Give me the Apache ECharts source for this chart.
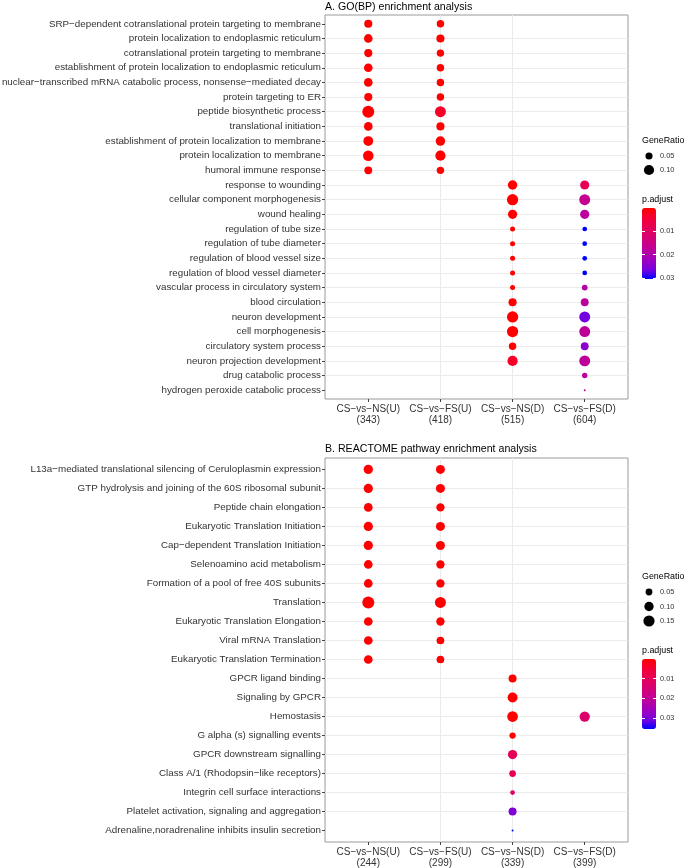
<!DOCTYPE html>
<html><head><meta charset="utf-8">
<script src="https://cdn.jsdelivr.net/npm/echarts@6/dist/echarts.min.js"></script>
<style>html,body{margin:0;padding:0;background:#fff}#c{width:685px;height:868px}</style>
</head><body><div id="c"></div>
<script>
// ---------- Panel A: GO(BP) ----------
const goTitle = 'A. GO(BP) enrichment analysis';
const goTerms = [
  'SRP−dependent cotranslational protein targeting to membrane',
  'protein localization to endoplasmic reticulum',
  'cotranslational protein targeting to membrane',
  'establishment of protein localization to endoplasmic reticulum',
  'nuclear−transcribed mRNA catabolic process, nonsense−mediated decay',
  'protein targeting to ER',
  'peptide biosynthetic process',
  'translational initiation',
  'establishment of protein localization to membrane',
  'protein localization to membrane',
  'humoral immune response',
  'response to wounding',
  'cellular component morphogenesis',
  'wound healing',
  'regulation of tube size',
  'regulation of tube diameter',
  'regulation of blood vessel size',
  'regulation of blood vessel diameter',
  'vascular process in circulatory system',
  'blood circulation',
  'neuron development',
  'cell morphogenesis',
  'circulatory system process',
  'neuron projection development',
  'drug catabolic process',
  'hydrogen peroxide catabolic process'
];
const goGroups = ['CS−vs−NS(U)', 'CS−vs−FS(U)', 'CS−vs−NS(D)', 'CS−vs−FS(D)'];
const goGroupCounts = [343, 418, 515, 604];
const N = null;
const goRatioNSU = [0.064,0.072,0.064,0.072,0.072,0.064,0.140,0.072,0.093,0.108,0.060, N,N,N,N,N,N,N,N,N,N,N,N,N,N,N];
const goPadjNSU  = [2e-12,1e-12,2e-12,1e-12,1e-12,2e-12,1e-12,1e-11,1e-12,1e-12,1e-6, N,N,N,N,N,N,N,N,N,N,N,N,N,N,N];
const goRatioFSU = [0.054,0.064,0.054,0.054,0.054,0.054,0.115,0.064,0.086,0.100,0.054, N,N,N,N,N,N,N,N,N,N,N,N,N,N,N];
const goPadjFSU  = [1e-9,1e-9,1e-9,1e-9,1e-9,1e-9,0.003,1e-8,1e-9,1e-9,1e-5, N,N,N,N,N,N,N,N,N,N,N,N,N,N,N];
const goRatioNSD = [N,N,N,N,N,N,N,N,N,N,N, 0.086,0.122,0.081,0.029,0.029,0.029,0.029,0.029,0.064,0.122,0.122,0.054,0.100, N,N];
const goPadjNSD  = [N,N,N,N,N,N,N,N,N,N,N, 1e-5,1e-6,1e-5,1e-4,1e-4,1e-4,1e-4,1e-4,1e-5,1e-6,1e-6,1e-5,0.003, N,N];
const goRatioFSD = [N,N,N,N,N,N,N,N,N,N,N, 0.081,0.115,0.081,0.027,0.027,0.027,0.027,0.0355,0.060,0.115,0.115,0.060,0.115,0.032,0.018];
const goPadjFSD  = [N,N,N,N,N,N,N,N,N,N,N, 0.0085,0.016,0.018,0.0305,0.0305,0.0305,0.0305,0.019,0.018,0.0265,0.0175,0.024,0.0175,0.018,0.016];
const goSizeBreaks = [0.05, 0.10];
const goColorBreaks = [0.01, 0.02, 0.03];

// ---------- Panel B: REACTOME ----------
const reTitle = 'B. REACTOME pathway enrichment analysis';
const reTerms = [
  'L13a−mediated translational silencing of Ceruloplasmin expression',
  'GTP hydrolysis and joining of the 60S ribosomal subunit',
  'Peptide chain elongation',
  'Eukaryotic Translation Initiation',
  'Cap−dependent Translation Initiation',
  'Selenoamino acid metabolism',
  'Formation of a pool of free 40S subunits',
  'Translation',
  'Eukaryotic Translation Elongation',
  'Viral mRNA Translation',
  'Eukaryotic Translation Termination',
  'GPCR ligand binding',
  'Signaling by GPCR',
  'Hemostasis',
  'G alpha (s) signalling events',
  'GPCR downstream signalling',
  'Class A/1 (Rhodopsin−like receptors)',
  'Integrin cell surface interactions',
  'Platelet activation, signaling and aggregation',
  'Adrenaline,noradrenaline inhibits insulin secretion'
];
const reGroups = ['CS−vs−NS(U)', 'CS−vs−FS(U)', 'CS−vs−NS(D)', 'CS−vs−FS(D)'];
const reGroupCounts = [244, 299, 339, 399];
const reRatioNSU = [0.099,0.099,0.085,0.099,0.099,0.085,0.085,0.175,0.085,0.085,0.085, N,N,N,N,N,N,N,N,N];
const rePadjNSU  = [1e-14,1e-14,1e-14,1e-14,1e-14,1e-14,1e-14,1e-14,1e-14,1e-14,1e-14, N,N,N,N,N,N,N,N,N];
const reRatioFSU = [0.092,0.092,0.077,0.092,0.092,0.077,0.077,0.144,0.077,0.065,0.065, N,N,N,N,N,N,N,N,N];
const rePadjFSU  = [1e-10,1e-10,1e-10,1e-10,1e-10,1e-10,1e-10,1e-10,1e-10,1e-10,1e-10, N,N,N,N,N,N,N,N,N];
const reRatioNSD = [N,N,N,N,N,N,N,N,N,N,N, 0.071,0.116,0.135,0.042,0.099,0.048,0.024,0.071,0.012];
const rePadjNSD  = [N,N,N,N,N,N,N,N,N,N,N, 1e-5,1e-5,1e-5,2e-4,0.010,0.0095,0.012,0.0295,0.0356];
const reRatioFSD = [N,N,N,N,N,N,N,N,N,N,N, N,N,0.124,N,N,N,N,N,N];
const rePadjFSD  = [N,N,N,N,N,N,N,N,N,N,N, N,N,0.013,N,N,N,N,N,N];
const reSizeBreaks = [0.05, 0.10, 0.15];
const reColorBreaks = [0.01, 0.02, 0.03];

// ---------- helpers ----------
// ggplot-like gradient red -> blue (interpolated in Lab, sampled)
const gradStops = ['#FF0000','#F40031','#E80050','#DA006C','#CA0088','#B500A5','#9A00C3','#7300E0','#0000FF'];
const FONT = 'Liberation Sans, Arial, Helvetica, sans-serif';
const TXT = '#333333';

function buildData(ratios, padjs) {
  const out = [];
  ratios.forEach((col, gi) => {
    col.forEach((r, ti) => { if (r != null) out.push([gi, ti, r, padjs[gi][ti]]); });
  });
  return out;
}
function sizeScale(ratios, dmin, dmax) {
  const all = [].concat(...ratios).filter(v => v != null);
  const lo = Math.min(...all), hi = Math.max(...all);
  return v => dmin + (dmax - dmin) * Math.sqrt(Math.max(0, (v - lo) / (hi - lo)));
}
function pMax(padjs) { return Math.max(...[].concat(...padjs).filter(v => v != null)); }

const goR = [goRatioNSU, goRatioFSU, goRatioNSD, goRatioFSD];
const goP = [goPadjNSU, goPadjFSU, goPadjNSD, goPadjFSD];
const reR = [reRatioNSU, reRatioFSU, reRatioNSD, reRatioFSD];
const reP = [rePadjNSU, rePadjFSU, rePadjNSD, rePadjFSD];
const goData = buildData(goR, goP), reData = buildData(reR, reP);
const goSize = sizeScale(goR, 2, 12), reSize = sizeScale(reR, 2, 12);
const goPmax = pMax(goP), rePmax = pMax(reP);

const panels = [
  {top: 15,  terms: goTerms, groups: goGroups, counts: goGroupCounts},
  {top: 458, terms: reTerms, groups: reGroups, counts: reGroupCounts}
];
const idx = n => Array.from({length: n}, (_, i) => i);

const grids = [], xAxes = [], yAxes = [];
panels.forEach(p => {
  grids.push({left: 325, top: p.top, width: 303, height: 384, show: true, borderColor: '#9a9a9a', borderWidth: 1,
    backgroundColor: '#fff', containLabel: false, outerBoundsMode: 'none'});
  const gi = grids.length - 1;
  xAxes.push({gridIndex: gi, type: 'value', min: -0.6, max: p.groups.length - 0.4, position: 'bottom',
    axisLine: {show: false, onZero: false},
    axisTick: {show: true, length: 3, lineStyle: {color: '#444'}, customValues: idx(p.groups.length)},
    axisLabel: {customValues: idx(p.groups.length), margin: 5, fontSize: 10, color: TXT, fontFamily: FONT, lineHeight: 10.5,
      formatter: v => p.groups[v] + '\n(' + p.counts[v] + ')'},
    splitLine: {show: true, showMinLine: false, showMaxLine: false, lineStyle: {color: '#ebebeb', width: 1}}});
  yAxes.push({gridIndex: gi, type: 'value', inverse: true, min: -0.6, max: p.terms.length - 0.4, position: 'left',
    axisLine: {show: false, onZero: false},
    axisTick: {show: true, length: 3, lineStyle: {color: '#444'}, customValues: idx(p.terms.length)},
    axisLabel: {customValues: idx(p.terms.length), margin: 4, fontSize: 9.8, color: TXT, fontFamily: FONT,
      formatter: v => p.terms[v]},
    splitLine: {show: true, showMinLine: false, showMaxLine: false, lineStyle: {color: '#ebebeb', width: 1}}});
});
// size legends
const sizeLegends = [
  {top: 149, h: 28, breaks: goSizeBreaks, size: goSize},
  {top: 584.75, h: 43.5, breaks: reSizeBreaks, size: reSize}
];
sizeLegends.forEach(L => {
  grids.push({left: 642, top: L.top, width: 14, height: L.h, containLabel: false, outerBoundsMode: 'none'});
  const gi = grids.length - 1;
  L.gi = gi;
  xAxes.push({gridIndex: gi, type: 'category', data: [''], show: false});
  yAxes.push({gridIndex: gi, type: 'category', inverse: true, position: 'right',
    data: L.breaks.map(b => b.toFixed(2)),
    axisLine: {show: false, onZero: false}, axisTick: {show: false}, splitLine: {show: false},
    axisLabel: {margin: 4, fontSize: 7.4, color: TXT, fontFamily: FONT}});
});
// colorbar axes
const colorBars = [
  {top: 208, h: 71, max: goPmax, breaks: goColorBreaks},
  {top: 659, h: 70, max: rePmax, breaks: reColorBreaks}
];
colorBars.forEach(C => {
  grids.push({left: 642, top: C.top, width: 14, height: C.h, containLabel: false, outerBoundsMode: 'none'});
  const gi = grids.length - 1;
  xAxes.push({gridIndex: gi, type: 'value', show: false});
  ['right', 'left'].forEach(pos => {
    yAxes.push({gridIndex: gi, type: 'value', inverse: true, min: 0, max: C.max, position: pos, z: 10,
      axisLine: {show: false, onZero: false}, splitLine: {show: false},
      axisTick: {show: true, inside: true, length: 3, customValues: C.breaks, lineStyle: {color: '#fff', width: 1}},
      axisLabel: {show: pos === 'right', customValues: C.breaks, margin: 4, fontSize: 7.4, color: TXT, fontFamily: FONT,
        formatter: v => v.toFixed(2)}});
  });
});

const series = [
  {type: 'scatter', xAxisIndex: 0, yAxisIndex: 0, data: goData, symbolSize: v => goSize(v[2]), itemStyle: {opacity: 1}, z: 5},
  {type: 'scatter', xAxisIndex: 1, yAxisIndex: 1, data: reData, symbolSize: v => reSize(v[2]), itemStyle: {opacity: 1}, z: 5},
  {type: 'scatter', xAxisIndex: sizeLegends[0].gi, yAxisIndex: sizeLegends[0].gi,
    data: goSizeBreaks.map((b, i) => [0, i, b]), symbolSize: v => goSize(v[2]), itemStyle: {color: '#000', opacity: 1}},
  {type: 'scatter', xAxisIndex: sizeLegends[1].gi, yAxisIndex: sizeLegends[1].gi,
    data: reSizeBreaks.map((b, i) => [0, i, b]), symbolSize: v => reSize(v[2]), itemStyle: {color: '#000', opacity: 1}}
];

const vmCommon = {type: 'continuous', dimension: 3, orient: 'vertical', inverse: true, calculable: false,
  itemWidth: 14, padding: 0, inRange: {color: gradStops}, hoverLink: false, text: null, showLabel: false};
const visualMap = [
  Object.assign({}, vmCommon, {seriesIndex: 0, min: 0, max: goPmax, left: 642, top: 208, itemHeight: 71}),
  Object.assign({}, vmCommon, {seriesIndex: 1, min: 0, max: rePmax, left: 642, top: 659, itemHeight: 70})
];

const tStyle = (s) => ({fontSize: s, fontWeight: 'normal', color: '#000', fontFamily: FONT});
const title = [
  {text: goTitle, left: 325, top: 1.5, padding: 0, textStyle: tStyle(10.6)},
  {text: reTitle, left: 325, top: 443.5, padding: 0, textStyle: tStyle(10.6)},
  {text: 'GeneRatio', left: 642, top: 136.5, padding: 0, textStyle: tStyle(8.9)},
  {text: 'p.adjust', left: 642, top: 195.5, padding: 0, textStyle: tStyle(8.9)},
  {text: 'GeneRatio', left: 642, top: 572.5, padding: 0, textStyle: tStyle(8.9)},
  {text: 'p.adjust', left: 642, top: 646, padding: 0, textStyle: tStyle(8.9)}
];

const chart = echarts.init(document.getElementById('c'), null, {renderer: 'canvas'});
chart.setOption({
  animation: false, backgroundColor: '#fff',
  title, grid: grids, xAxis: xAxes, yAxis: yAxes, visualMap, series
});
</script></body></html>
